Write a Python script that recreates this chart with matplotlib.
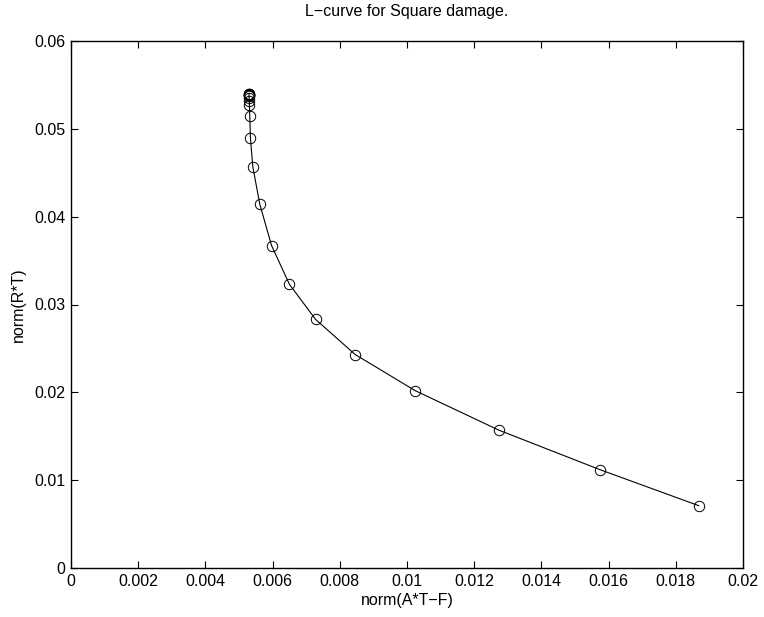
import matplotlib
matplotlib.use("Agg")
import matplotlib.pyplot as plt

# L-curve points (residual norm, solution norm)
res_norm = [0.00530, 0.00530, 0.00530, 0.00530, 0.00530, 0.00530, 0.00530,
            0.00530, 0.00531, 0.00531, 0.00532, 0.00534, 0.00541, 0.00562,
            0.00597, 0.00650, 0.00728, 0.00846, 0.01024, 0.01273, 0.01574,
            0.01868]
sol_norm = [0.05400, 0.05398, 0.05395, 0.05390, 0.05385, 0.05380, 0.05370,
            0.05350, 0.05320, 0.05270, 0.05150, 0.04900, 0.04570, 0.04140,
            0.03670, 0.03230, 0.02830, 0.02430, 0.02020, 0.01570, 0.01120,
            0.00710]

xticks = [0, 0.002, 0.004, 0.006, 0.008, 0.01, 0.012, 0.014, 0.016, 0.018, 0.02]
xticklabels = ["0", "0.002", "0.004", "0.006", "0.008", "0.01", "0.012",
               "0.014", "0.016", "0.018", "0.02"]
yticks = [0, 0.01, 0.02, 0.03, 0.04, 0.05, 0.06]
yticklabels = ["0", "0.01", "0.02", "0.03", "0.04", "0.05", "0.06"]

plt.rcParams['font.family'] = ['Liberation Sans', 'DejaVu Sans']
plt.rcParams['font.size'] = 11.5

fig = plt.figure(figsize=(7.64, 6.17), dpi=100)
ax = fig.add_axes([71 / 764, 49 / 617, 672 / 764, 527 / 617])

ax.plot(res_norm, sol_norm, '-', color='k', linewidth=0.8)
ax.plot(res_norm, sol_norm, 'o', markerfacecolor='none', markeredgecolor='k',
        markersize=7.5, markeredgewidth=0.7)

ax.set_xlim(0, 0.02)
ax.set_ylim(0, 0.06)
ax.set_xticks(xticks)
ax.set_xticklabels(xticklabels)
ax.set_yticks(yticks)
ax.set_yticklabels(yticklabels)
ax.tick_params(direction='in', top=True, right=True, length=5, width=0.8, pad=4)
for s in ax.spines.values():
    s.set_linewidth(1.0)

ax.set_title("L\u2212curve for Square damage.", fontsize=11.5, pad=18)
ax.set_xlabel("norm(A*T\u2212F)", labelpad=3)
ax.set_ylabel("norm(R*T)", labelpad=6)

fig.savefig("out.png", dpi=100)
